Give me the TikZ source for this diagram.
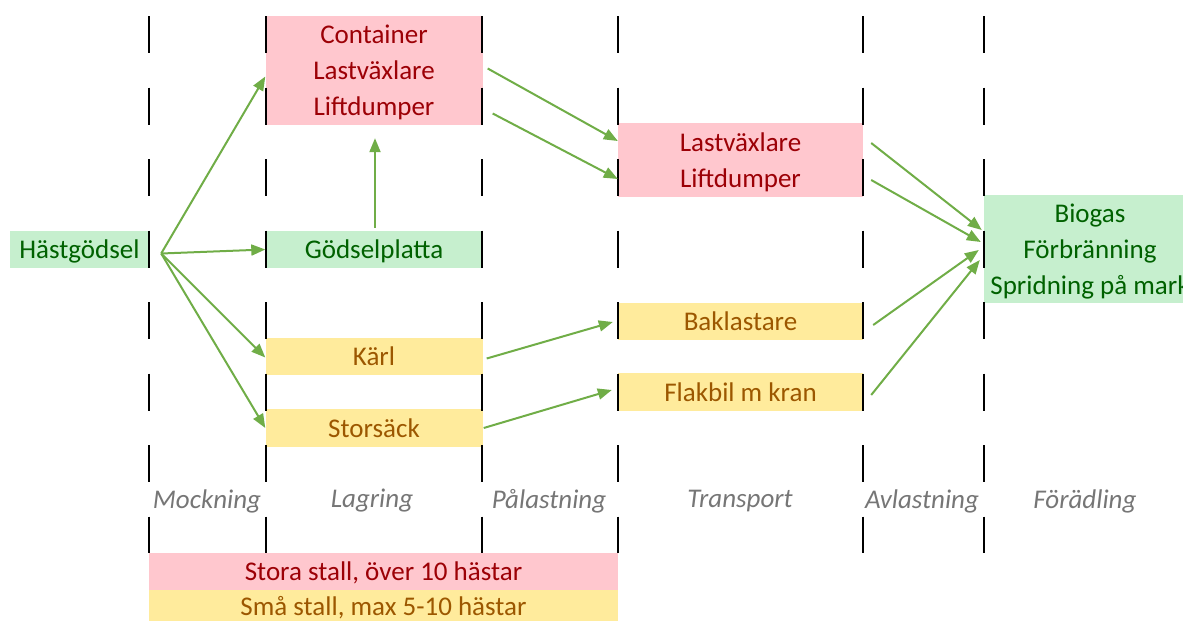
\documentclass[tikz,border=0pt]{standalone}
\usepackage{fontspec}
\setmainfont{Carlito}
\usetikzlibrary{arrows.meta,positioning,calc}

\definecolor{badfill}{RGB}{255,199,206}
\definecolor{badtext}{RGB}{156,0,6}
\definecolor{goodfill}{RGB}{198,239,206}
\definecolor{goodtext}{RGB}{0,97,0}
\definecolor{neutfill}{RGB}{255,235,156}
\definecolor{neuttext}{RGB}{156,87,0}
\definecolor{flowgreen}{RGB}{112,173,71}
\definecolor{labgray}{RGB}{118,118,118}

\tikzset{
  cell/.style={inner sep=0pt, align=center, text depth=0pt, font={\fontsize{27}{35.8}\selectfont}},
  large/.style={cell, fill=badfill, text=badtext},
  good/.style={cell, fill=goodfill, text=goodtext},
  small/.style={cell, fill=neutfill, text=neuttext},
  phase/.style={inner sep=0pt, text=labgray, font={\fontsize{27}{30}\selectfont\itshape}},
  colline/.style={line width=2pt, dash pattern=on 37pt off 34.5pt},
  flow/.style={draw=flowgreen, line width=2pt, -{Triangle[length=14pt,width=11pt]}}
}

\begin{document}
\begin{tikzpicture}[x=1pt,y=-1pt]
\useasboundingbox (0,0) rectangle (1183,621);
% boxes
\node[good, minimum width=139, minimum height=37] (hast) at (79.5,249.5) {Hästgödsel};
\node[large, minimum width=217, minimum height=109] (cont) at (374,70.5) {Container\\Lastväxlare\\Liftdumper};
\node[good, minimum width=217, minimum height=37] (godsel) at (374,249.5) {Gödselplatta};
\node[small, minimum width=217, minimum height=37] (karl) at (374,356.5) {Kärl};
\node[small, minimum width=217, minimum height=38] (sack) at (374,428) {Storsäck};
\node[large, minimum width=245, minimum height=74] (tpink) at (740.5,160) {Lastväxlare\\Liftdumper};
\node[small, minimum width=245, minimum height=37] (bak) at (740.5,321) {Baklastare};
\node[small, minimum width=245, minimum height=38] (flak) at (740.5,392) {Flakbil m kran};
\node[good, minimum width=212, minimum height=108] (bio) at (1090,249) {Biogas\\Förbränning\\Spridning på mark};
% legend
\node[large, minimum width=469, minimum height=37] (legbig) at (383.5,571.5) {Stora stall, över 10 hästar};
\node[small, minimum width=469, minimum height=31, below=0pt of legbig] (legsmall) {Små stall, max 5-10 hästar};
% phase lines and names
\foreach \x in {149,266,482,618,863,984}
  \draw[colline] (\x,16) -- (\x,553);
\foreach \x/\t [count=\i] in {207/Mockning,372/Lagring,549/Pålastning,740/Transport,922/Avlastning,1085/Förädling}
  \node[phase] (phase\i) at (\x,501) {\t};
% flows
\coordinate (hs) at ([shift={(12,4)}]hast.east);
\draw[flow] (hs) -- ([shift={(0,6)}]cont.west);
\draw[flow] (hs) -- (godsel.west);
\draw[flow] (hs) -- ([shift={(0,1)}]karl.west);
\draw[flow] (hs) -- (sack.west);
\draw[flow] ([shift={(1,-3)}]godsel.north) -- ([shift={(1,13)}]cont.south);
\draw[flow] ([shift={(5,-2)}]cont.east) -- ([shift={(0,-19)}]tpink.west);
\draw[flow] ([shift={(10,43)}]cont.east) -- ([shift={(0,19)}]tpink.west);
\draw[flow] ([shift={(4,2)}]karl.east) -- ([shift={(-5,1)}]bak.west);
\draw[flow] ([shift={(1,0)}]sack.east) -- ([shift={(-6,-2)}]flak.west);
\draw[flow] ([shift={(8,-17)}]tpink.east) -- ([shift={(-2,-19)}]bio.west);
\draw[flow] ([shift={(8,20)}]tpink.east) -- ([shift={(-3,-7)}]bio.west);
\draw[flow] ([shift={(10,4)}]bak.east) -- ([shift={(-5,1)}]bio.west);
\draw[flow] ([shift={(8,3)}]flak.east) -- ([shift={(-4,11)}]bio.west);
\end{tikzpicture}
\end{document}
